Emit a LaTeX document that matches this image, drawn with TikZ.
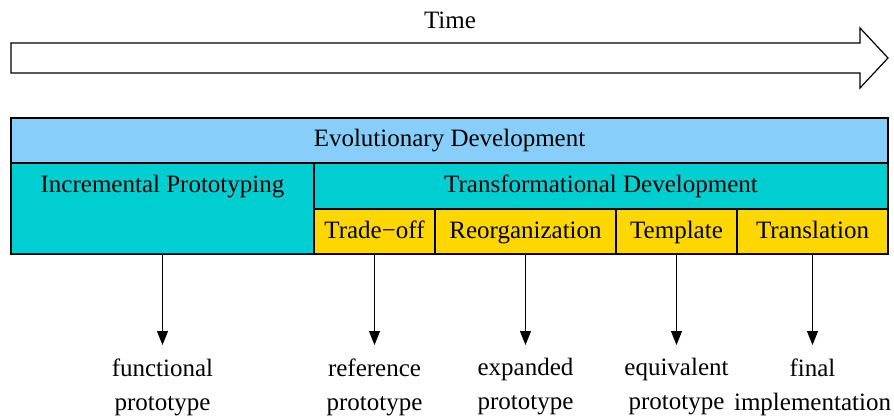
\documentclass[tikz,border=0pt]{standalone}
\usepackage{fontspec}
\setmainfont{Liberation Serif}
\usepackage{xcolor}
\usetikzlibrary{arrows.meta, positioning}
\definecolor{evoblue}{RGB}{135,206,250}
\definecolor{transteal}{RGB}{0,206,209}
\definecolor{stepgold}{RGB}{255,215,0}
\tikzset{
    base/.style={font=\fontsize{12.5}{17}\selectfont, align=center},
    cell/.style={base, draw=black, line width=0.6pt, rectangle, outer sep=0pt, inner sep=0pt,
                 text height=9pt, text depth=2.5pt, anchor=north west},
    output/.style={base, inner sep=0pt},
    line/.style={draw=black, line width=0.5pt, -{Triangle[length=7pt, width=5.5pt]}, shorten >=6.5pt},
    timebar/.style={draw=black, line width=0.6pt, fill=white}
}

\begin{document}
\begin{tikzpicture}[x=0.5pt, y=-0.5pt]
    \useasboundingbox (0,0) rectangle (894,417);
    % time axis
    \draw [timebar] (11,43) -- (860,43) -- (860,28) -- (888,58) -- (860,88) -- (860,73) -- (11,73) -- cycle;
    \node [base] (Time) at (450,20) {Time};

    % development table
    \node [cell, fill=evoblue, minimum width=438.5pt, minimum height=22.5pt] (Evo) at (11,118) {Evolutionary Development};
    \node [cell, fill=transteal, minimum width=151.5pt, minimum height=45.5pt,
           label={[base, text height=9pt, text depth=2.5pt, anchor=center, yshift=-11.5pt]north:Incremental Prototyping}] (Incr) at (Evo.south west) {};
    \node [cell, fill=transteal, minimum width=287pt, minimum height=23pt] (Trans) at (Incr.north east) {Transformational Development};
    \node [cell, fill=stepgold, minimum width=60.5pt, minimum height=22.5pt] (TradeOff) at (Trans.south west) {Trade−off};
    \node [cell, fill=stepgold, minimum width=90.5pt, minimum height=22.5pt] (Reorg) at (TradeOff.north east) {Reorganization};
    \node [cell, fill=stepgold, minimum width=60.5pt, minimum height=22.5pt] (Template) at (Reorg.north east) {Template};
    \node [cell, fill=stepgold, minimum width=75.5pt, minimum height=22.5pt] (Translation) at (Template.north east) {Translation};

    % resulting prototypes
    \node [output, below=52pt of Incr] (Functional) {functional\\prototype};
    \node [output, below=52pt of TradeOff] (Reference) {reference\\prototype};
    \node [output, below=52pt of Reorg] (Expanded) {expanded\\prototype};
    \node [output, below=52pt of Template] (Equivalent) {equivalent\\prototype};
    \node [output, below=52pt of Translation] (Final) {final\\implementation};

    \draw [line] (Incr) -- (Functional);
    \draw [line] (TradeOff) -- (Reference);
    \draw [line] (Reorg) -- (Expanded);
    \draw [line] (Template) -- (Equivalent);
    \draw [line] (Translation) -- (Final);
\end{tikzpicture}
\end{document}
